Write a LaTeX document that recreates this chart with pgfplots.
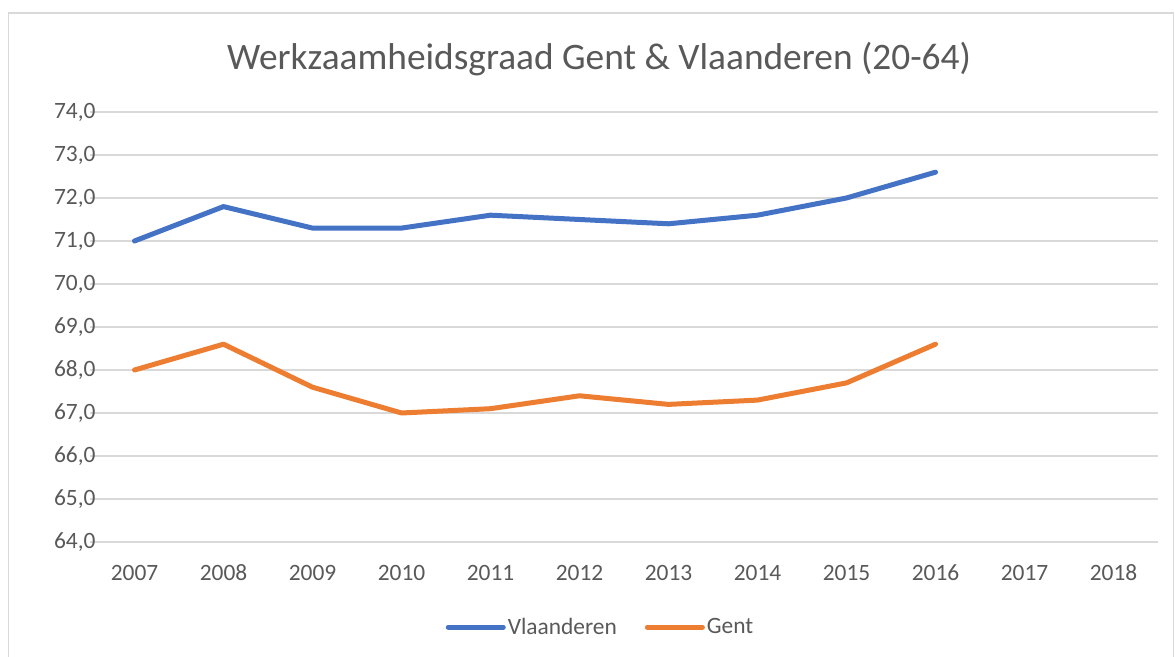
\documentclass[border=0pt]{standalone}
\usepackage{fontspec}
\setmainfont{Carlito}
\usepackage{pgfplots}
\pgfplotsset{compat=1.18}
\definecolor{vblue}{HTML}{4472C4}
\definecolor{gorange}{HTML}{ED7D31}
\definecolor{gridgray}{HTML}{D9D9D9}
\definecolor{txtgray}{HTML}{595959}
\begin{document}
\begin{tikzpicture}[x=1bp,y=1bp]
\clip (0,0) rectangle (1175,657);
\fill[white] (0,0) rectangle (1175,657);
\draw[gridgray, line width=1.5bp] (8.5,-5) rectangle (1173.5,644);
\node[txtgray, font=\fontsize{37.5}{44}\selectfont] at (599,598) {Werkzaamheidsgraad Gent \& Vlaanderen (20-64)};
\begin{axis}[
  at={(90bp,115bp)}, anchor=south west,
  scale only axis, width=1068bp, height=430bp,
  xmin=-0.5, xmax=11.5, ymin=64, ymax=74,
  ytick={64,65,...,74},
  xtick={0,1,...,11},
  xticklabels={2007,2008,2009,2010,2011,2012,2013,2014,2015,2016,2017,2018},
  axis line style={draw=none},
  major tick length=0pt,
  ymajorgrids,
  grid style={gridgray, line width=1.5bp},
  tick label style={text=txtgray, font=\fontsize{23.5}{28}\selectfont},
  yticklabel style={/pgf/number format/.cd, fixed, fixed zerofill, precision=1, use comma, assume math mode=true, /tikz/.cd, xshift=9bp},
  xticklabel style={/pgf/number format/assume math mode=true, text height=16bp, text depth=0pt, yshift=-19bp},
  legend style={at={(0.478,-0.198)}, anchor=center, draw=none, fill=none,
    legend columns=2, font=\fontsize{23.5}{28}\selectfont, text=txtgray,
    /tikz/every even column/.append style={column sep=26bp}},
  legend image code/.code={\draw[#1] (0bp,0bp) -- (55bp,0bp);},
  clip=false,
]
\addplot[vblue, line width=5bp, line cap=round, line join=round] coordinates {
(0,71.0) (1,71.8) (2,71.3) (3,71.3) (4,71.6) (5,71.5) (6,71.4) (7,71.6) (8,72.0) (9,72.6)};
\addlegendentry{Vlaanderen}
\addplot[gorange, line width=5bp, line cap=round, line join=round] coordinates {
(0,68.0) (1,68.6) (2,67.6) (3,67.0) (4,67.1) (5,67.4) (6,67.2) (7,67.3) (8,67.7) (9,68.6)};
\addlegendentry{Gent}
\end{axis}
\end{tikzpicture}
\end{document}
